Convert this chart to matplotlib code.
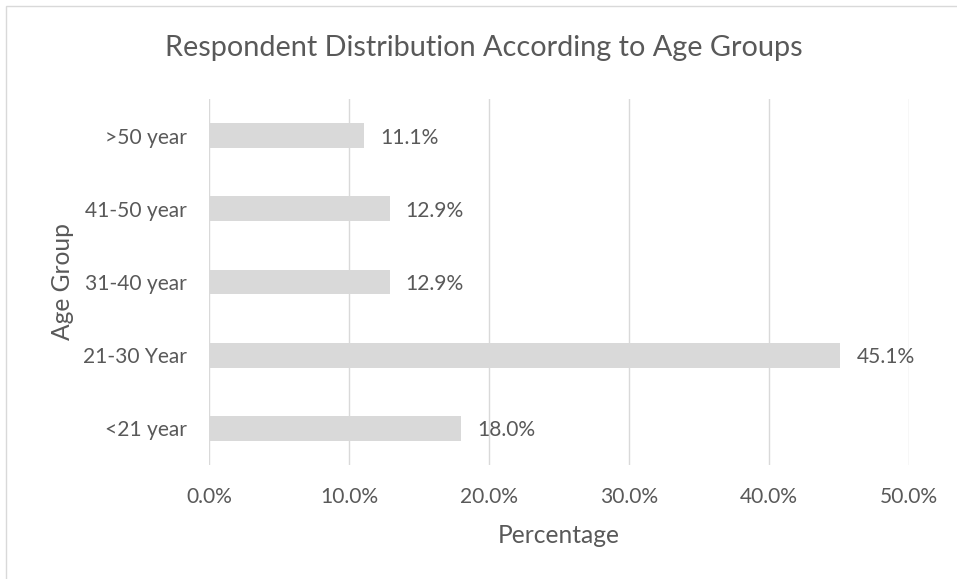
import matplotlib.pyplot as plt
from matplotlib.patches import Rectangle
from matplotlib.ticker import FuncFormatter

age_groups = ["<21 year", "21-30 Year", "31-40 year", "41-50 year", ">50 year"]
percentages = [18.0, 45.1, 12.9, 12.9, 11.1]
x_ticks = [0, 10, 20, 30, 40, 50]

text_color = "#595959"
grid_color = "#d9d9d9"
bar_color = "#d9d9d9"

plt.rcParams['font.family'] = ['Lato', 'DejaVu Sans']

W, H = 957, 579
fig = plt.figure(figsize=(W/100, H/100), dpi=100)
renderer = fig.canvas.get_renderer()


def size_for(s, target_px, base=12):
    # font size that makes string s about target_px wide (Calibri look-alike widths)
    t = fig.text(0, 0, s, fontsize=base)
    w = t.get_window_extent(renderer).width
    t.remove()
    return base * target_px / w


tick_size = (size_for("0.0%", 45) + size_for("41-50 year", 104) + size_for("11.1%", 58)) / 3
label_size = size_for("Percentage", 122)
title_size = size_for("Respondent Distribution According to Age Groups", 635)

ax = fig.add_axes([209/W, 1-465/H, 700/W, 366/H])

# faint outer chart border (Excel chart area)
fig.patches.append(Rectangle((6/W, -0.1), 1.2, (1-6/H)+0.1, transform=fig.transFigure,
                             fill=False, edgecolor="#d9d9d9", linewidth=1))

ax.barh(range(len(age_groups)), percentages, height=0.34, color=bar_color, zorder=2)
for i, v in enumerate(percentages):
    ax.text(v + 1.15, i, "%.1f%%" % v, va="center_baseline", ha="left",
            fontsize=tick_size, color=text_color)

ax.set_xlim(0, 50)
ax.set_ylim(-0.5, len(age_groups) - 0.5)
ax.set_xticks(x_ticks)
ax.xaxis.set_major_formatter(FuncFormatter(lambda x, p: "%.1f%%" % x))
ax.set_yticks(range(len(age_groups)))
ax.set_yticklabels(age_groups)
ax.tick_params(axis="both", length=0, labelsize=tick_size, labelcolor=text_color)
ax.tick_params(axis="x", pad=38*0.72)
ax.tick_params(axis="y", pad=22*0.72)
for lab in ax.get_xticklabels():
    lab.set_verticalalignment("baseline")
ax.grid(axis="x", color=grid_color, linewidth=1, zorder=0)
for s in ax.spines.values():
    s.set_visible(False)

fig.text(559/W, 1-543/H, "Percentage", ha="center", va="baseline",
         fontsize=label_size, color=text_color)
fig.text(62/W, 1-282/H, "Age Group", ha="center", va="center", rotation=90,
         fontsize=label_size, color=text_color)
fig.text(484/W, 1-56/H, "Respondent Distribution According to Age Groups",
         ha="center", va="baseline", fontsize=title_size, color=text_color)

fig.savefig("out.png", dpi=100)
